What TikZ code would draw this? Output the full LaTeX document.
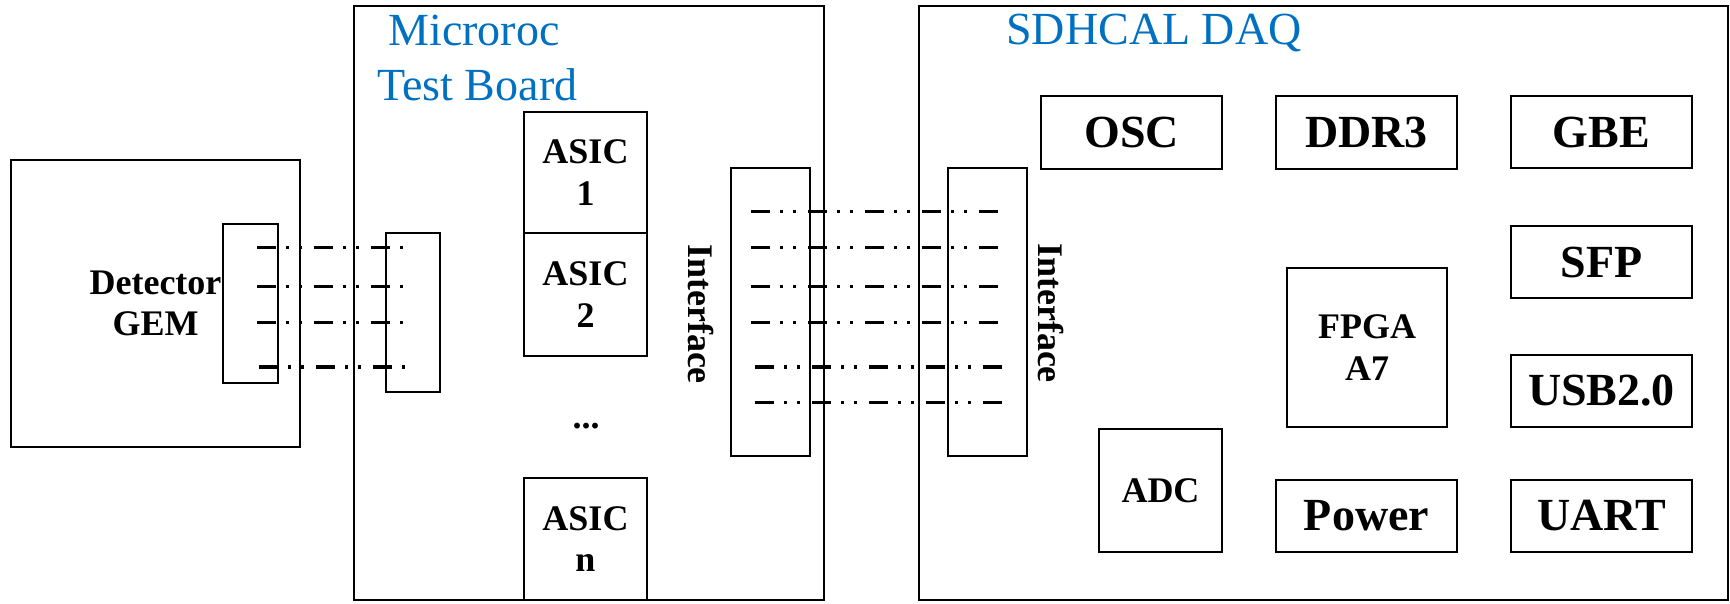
\documentclass[tikz,border=0pt]{standalone}
\usepackage{fontspec}
\setmainfont{Liberation Serif}
\definecolor{titleblue}{RGB}{0,112,192}
\tikzset{
  board/.style={draw, line width=1pt, inner sep=0pt},
  sz/.style 2 args={minimum width=#1*0.5pt, minimum height=#2*0.5pt},
  box/.style={board, align=center, font=\bfseries\fontsize{23}{27}\selectfont},
  smallbox/.style={board, align=center, font=\bfseries\fontsize{18}{20.7}\selectfont},
  title/.style={text=titleblue, font=\fontsize{23}{27}\selectfont, anchor=base west, inner sep=0pt},
  rotlabel/.style={rotate=-90, font=\bfseries\fontsize{18}{20}\selectfont, inner sep=0pt},
  link/.style={line width=1.5pt, dash pattern=on 9.5pt off 5pt on 1.5pt off 5pt on 1.5pt off 6pt},
}
\begin{document}
\begin{tikzpicture}[x=0.5pt, y=-0.5pt]
\useasboundingbox (0,0) rectangle (1730,604);

% detector with its connector
\node[smallbox, sz={289}{287}] (det) at (155.5,303.5) {Detector\\GEM};
\node[board, sz={55}{159}] (detc) at (250.5,303.5) {};

% Microroc test board
\node[board, sz={470}{594}] (mtb) at (589,303) {};
\node[title] (mtbt1) at (388,46) {Microroc};
\node[title] (mtbt2) at (377,101) {Test Board};
\node[board, sz={54}{159}] (mtbc) at (413,312.5) {};
\node[smallbox, sz={123}{121}] (asic1) at (585.5,172.5) {ASIC\\1};
\node[smallbox, sz={123}{123}] (asic2) at (585.5,294.5) {ASIC\\2};
\node[font=\bfseries\fontsize{18}{20}\selectfont, anchor=base, inner sep=0pt] (adots) at (586,428) {...};
\node[smallbox, sz={123}{122}] (asicn) at (585.5,539) {ASIC\\n};
\node[rotlabel] (mtbl) at (701,314) {Interface};
\node[board, sz={79}{288}] (mtbi) at (770.5,312) {};

% SDHCAL DAQ board
\node[board, sz={809}{594}] (daq) at (1323.5,303) {};
\node[title] (daqt) at (1006,45) {SDHCAL DAQ};
\node[board, sz={79}{288}] (daqi) at (987.5,312) {};
\node[rotlabel] (daql) at (1051,313) {Interface};
\node[box, sz={181}{73}] (osc) at (1131.5,132.5) {OSC};
\node[box, sz={181}{73}] (ddr) at (1366.5,132.5) {DDR3};
\node[box, sz={181}{72}] (gbe) at (1601.5,132) {GBE};
\node[box, sz={181}{72}] (sfp) at (1601.5,262) {SFP};
\node[smallbox, sz={160}{159}] (fpga) at (1367,347.5) {FPGA\\A7};
\node[box, sz={181}{72}] (usb) at (1601.5,391) {USB2.0};
\node[smallbox, sz={123}{123}] (adc) at (1160.5,490.5) {ADC};
\node[box, sz={181}{72}] (pwr) at (1366.5,516) {Power};
\node[box, sz={181}{72}] (uart) at (1601.5,516) {UART};

% detector to test board signal lines
\foreach \i/\y/\xa in {1/248/257, 2/287/257, 3/323/257, 4/367/259} {
  \coordinate (dl\i) at (\xa,\y);
  \coordinate (ml\i) at (\xa+146,\y);
  \draw[link] (dl\i) -- (ml\i);
}

% test board to DAQ interface lines
\foreach \i/\y/\xa in {1/212/751, 2/248/751, 3/287/751, 4/323/751, 5/367/755, 6/402/755} {
  \coordinate (il\i) at (\xa,\y);
  \coordinate (ir\i) at (\xa+247,\y);
  \draw[link] (il\i) -- (ir\i);
}
\end{tikzpicture}
\end{document}
